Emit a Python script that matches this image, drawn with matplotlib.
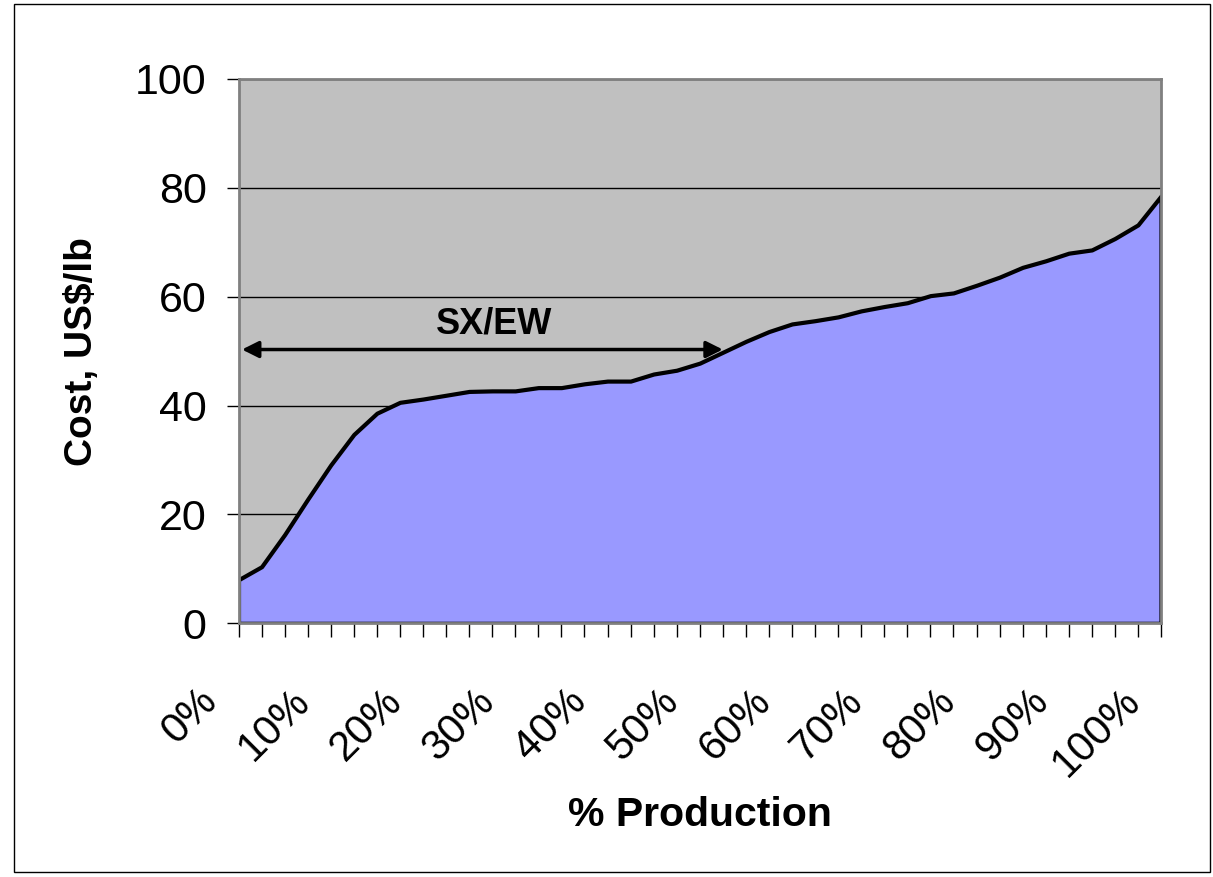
import matplotlib
matplotlib.use("Agg")
import matplotlib.pyplot as plt
from matplotlib.transforms import ScaledTranslation
from matplotlib.patches import Rectangle
import numpy as np

plt.rcParams['font.family'] = ['Liberation Sans', 'DejaVu Sans']

# Cumulative production steps (2.5 % each) and cash cost, US$/lb
cost = [8.0, 10.4, 16.3, 22.8, 29.1, 34.7, 38.6, 40.6, 41.2, 41.9,
        42.6, 42.7, 42.7, 43.3, 43.3, 44.0, 44.5, 44.5, 45.8, 46.5,
        47.8, 49.8, 51.8, 53.6, 55.0, 55.6, 56.3, 57.4, 58.2, 58.9,
        60.2, 60.7, 62.1, 63.6, 65.4, 66.6, 68.0, 68.6, 70.7, 73.2,
        78.5]
pct_labels = ['0%', '10%', '20%', '30%', '40%', '50%',
              '60%', '70%', '80%', '90%', '100%']
label_every = 4
y_ticks = [0, 20, 40, 60, 80, 100]

# SX/EW range marker
sxew_start, sxew_end, sxew_level = 0.15, 21.0, 50.3
sxew_text = "SX/EW"

W, H = 1213, 877
fig = plt.figure(figsize=(W / 100, H / 100), dpi=100)
fig.patch.set_facecolor('white')
fig.patches.append(Rectangle((14 / W, 1 - 872 / H), (1210 - 14) / W, (872 - 4) / H,
                             transform=fig.transFigure, fill=False,
                             edgecolor='black', linewidth=1.0))

ax = fig.add_axes([238.5 / W, 1 - 623.3 / H, (1161 - 238.5) / W, (623.3 - 79) / H])
ax.set_facecolor('#C0C0C0')

x = np.arange(len(cost))
ax.fill_between(x, cost, 0, facecolor='#9999FF', edgecolor='black',
                linewidth=3.0, zorder=1)

ax.set_xlim(0, len(cost) - 1)
ax.set_ylim(0, 100)

ax.set_axisbelow(True)
ax.yaxis.grid(True, color='black', linewidth=1.0)
ax.xaxis.grid(False)

for side, sp in ax.spines.items():
    sp.set_color('#808080')
    sp.set_linewidth(2.0)

# Category ticks at every step, labels every 10 %
ax.set_xticks(x)
labels = []
k = 0
for i in x:
    if i % label_every == 0:
        labels.append(pct_labels[k])
        k += 1
    else:
        labels.append('')
ax.set_xticklabels(labels, fontsize=30)
ax.tick_params(axis='x', direction='out', length=10, width=1, color='black', pad=0)
offset = ScaledTranslation(-27 / 100, -58 / 100, fig.dpi_scale_trans)
for lab in ax.get_xticklabels():
    lab.set_rotation(45)
    lab.set_rotation_mode('anchor')
    lab.set_ha('right')
    lab.set_va('center')
    lab.set_transform(lab.get_transform() + offset)

ax.set_yticks(y_ticks)
ax.set_yticklabels([str(v) for v in y_ticks], fontsize=31)
ax.tick_params(axis='y', direction='out', length=9, width=1, color='black', pad=14)

ax.set_ylabel('Cost, US$/lb', fontsize=28, fontweight='bold')
ax.yaxis.set_label_coords(-0.150, 0.5)
ax.set_xlabel('% Production', fontsize=29.5, fontweight='bold')
ax.xaxis.set_label_coords(0.5, -0.318)

ax.annotate('', xy=(sxew_start, sxew_level), xytext=(sxew_end, sxew_level),
            arrowprops=dict(arrowstyle='<|-|>,head_length=0.5,head_width=0.25',
                            color='black', lw=2.5, mutation_scale=20,
                            shrinkA=0, shrinkB=0), zorder=4)
ax.text(11.1, 55.0, sxew_text, fontsize=26, fontweight='bold',
        ha='center', va='center', zorder=4)

fig.savefig('out.png', dpi=100)
